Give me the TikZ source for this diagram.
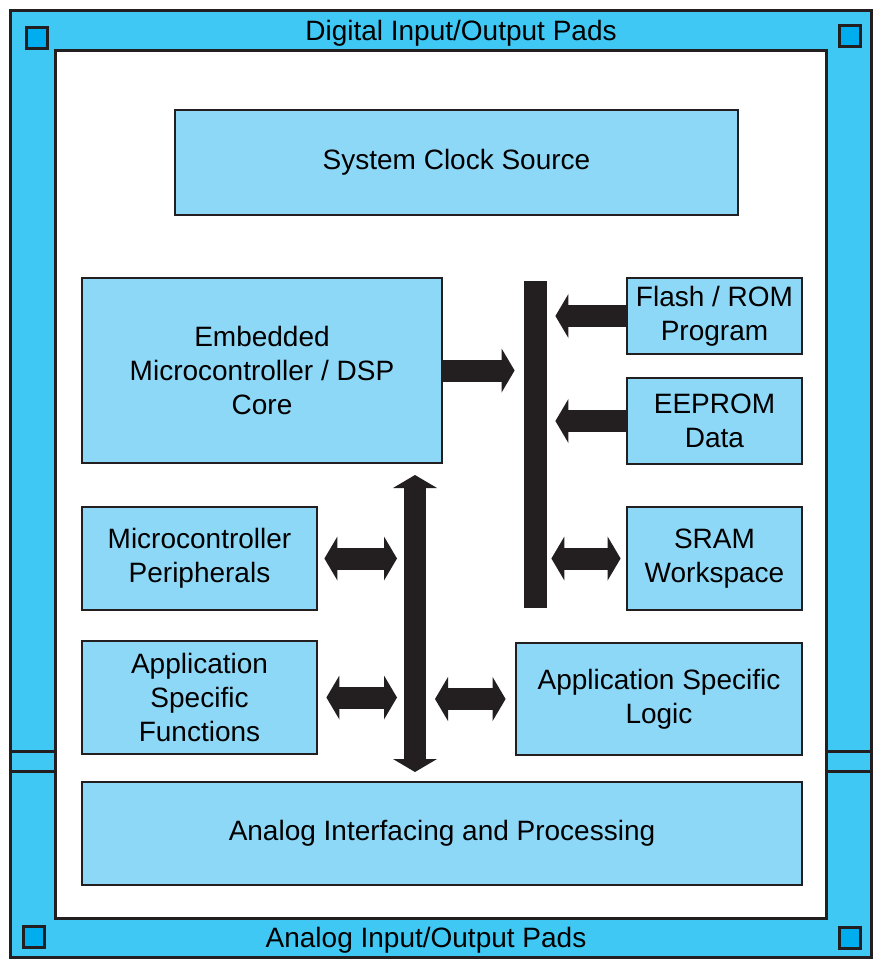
\documentclass[tikz,border=0pt]{standalone}
\usepackage{fontspec}
\setmainfont{Liberation Sans}
\usepackage{tikz}
\usetikzlibrary{arrows.meta,calc}
\definecolor{padblue}{HTML}{40C8F4}
\definecolor{boxblue}{HTML}{8ED8F7}
\definecolor{cornerblue}{HTML}{00ADEE}
\definecolor{ink}{HTML}{231F20}

\begin{document}
\begin{tikzpicture}[x=0.5pt,y=-0.5pt,
	box/.style={draw=ink,fill=boxblue,line width=1.4pt,inner sep=0pt,align=center},
	busbar/.style={fill=ink,inner sep=0pt},
	fat/.style={ink,line width=11pt,-{Triangle[width=22pt,length=6.5pt,line width=0pt]}},
	fatboth/.style={ink,line width=11pt,{Triangle[width=22pt,length=6.5pt,line width=0pt]}-{Triangle[width=22pt,length=6.5pt,line width=0pt]}}]
	\tikzstyle{every node}=[font=\fontsize{14}{17}\selectfont]
	\useasboundingbox (0,0) rectangle (874,960);
	
	% pad ring
	\draw[draw=ink,fill=padblue,line width=1.5pt] (10,10) rectangle (871,957);
	\draw[draw=ink,fill=white,line width=1.5pt] (55,50) rectangle (826,918);
	\draw[ink,line width=1.5pt] (10,751) -- (55,751) (10,771) -- (55,771);
	\draw[ink,line width=1.5pt] (826,751) -- (871,751) (826,771) -- (871,771);
	\foreach \px/\py in {26/27,839/25,23/926,839/927}
		\draw[draw=ink,fill=cornerblue,line width=1.5pt] (\px,\py) rectangle ++(21,21);
	\node (digpads) at (461,33) {Digital Input/Output Pads};
	\node (anapads) at (426,940) {Analog Input/Output Pads};
	
	% blocks
	\node[box,minimum width=281.5pt,minimum height=52.5pt] (clock) at (456.5,162.5) {System Clock Source};
	\node[box,minimum width=180pt,minimum height=92.5pt] (core) at (262,370.5) {Embedded\\Microcontroller / DSP\\Core};
	\node[box,minimum width=87.5pt,minimum height=38pt] (flash) at (714.5,316) {Flash / ROM\\Program};
	\node[box,minimum width=87.5pt,minimum height=43pt] (eeprom) at (714.5,421) {EEPROM\\Data};
	\node[box,minimum width=117.5pt,minimum height=51.5pt] (periph) at (199.5,558.5) {Microcontroller\\Peripherals};
	\node[box,minimum width=87.5pt,minimum height=51.5pt] (sram) at (714.5,558.5) {SRAM\\Workspace};
	\node[box,minimum width=117.5pt,minimum height=56.5pt] (appfunc) at (199.5,697.5) {Application\\Specific\\Functions};
	\node[box,minimum width=143pt,minimum height=56pt] (applogic) at (659,699) {Application Specific\\Logic};
	\node[box,minimum width=360pt,minimum height=51.5pt] (analog) at (442,833.5) {Analog Interfacing and Processing};
	
	% buses
	\node[busbar,minimum width=11.5pt,minimum height=163.5pt] (bus) at (535.5,444.5) {};
	\coordinate (vtop) at (415,475);
	\coordinate (vbot) at (415,772);
	\draw[fatboth] (vtop) -- (vbot);
	
	\draw[fat,shorten >=4.5pt] (core.east) -- (core.east -| bus.west);
	\draw[fat,shorten >=4pt] (flash.west) -- (flash.west -| bus.east);
	\draw[fat,shorten >=4pt] (eeprom.west) -- (eeprom.west -| bus.east);
	\draw[fatboth,shorten <=2pt,shorten >=2.5pt] (sram.west -| bus.east) -- (sram.west);
	\draw[fatboth,shorten <=3pt,shorten >=9pt] (periph.east) -- (periph.east -| vtop);
	\draw[fatboth,shorten <=4pt,shorten >=9pt] (appfunc.east) -- (appfunc.east -| vtop);
	\draw[fatboth,shorten <=10pt,shorten >=4.5pt] (applogic.west -| vtop) -- (applogic.west);
\end{tikzpicture}
\end{document}
